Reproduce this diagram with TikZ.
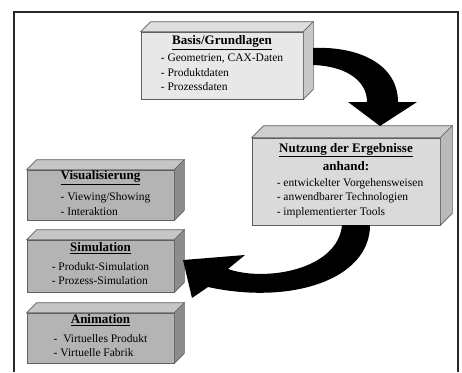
\documentclass[tikz,border=0pt]{standalone}
\usepackage{fontspec}
\setmainfont{Liberation Serif}
\usetikzlibrary{calc}
\definecolor{cEdge}{RGB}{95,95,95}
\definecolor{cFrame}{RGB}{40,40,40}
\definecolor{cLightFront}{RGB}{232,232,232}
\definecolor{cLightTop}{RGB}{222,222,222}
\definecolor{cLightSide}{RGB}{200,200,200}
\definecolor{cMidFront}{RGB}{218,218,218}
\definecolor{cMidTop}{RGB}{206,206,206}
\definecolor{cMidSide}{RGB}{186,186,186}
\definecolor{cDarkFront}{RGB}{180,180,180}
\definecolor{cDarkTop}{RGB}{198,198,198}
\definecolor{cDarkSide}{RGB}{140,140,140}
\tikzset{
  basebox/.style={rectangle,draw=cEdge,line width=0.6pt,inner sep=0pt,
                  align=center,font=\fontsize{11.5}{14.5}\selectfont},
  lightbox/.style={basebox,fill=cLightFront,minimum width=162pt,minimum height=67pt},
  midbox/.style={basebox,fill=cMidFront,minimum width=188pt,minimum height=87pt},
  darkbox/.style={basebox,fill=cDarkFront,minimum width=147pt,minimum height=50pt},
  face/.style={draw=cEdge,line width=0.6pt},
  bigarrow/.style={fill=black},
  frameline/.style={draw=cFrame,line width=1.4pt}
}
\newcommand{\boxtitle}[1]{\underline{\textbf{\fontsize{13}{16}\selectfont #1}}}
\newcommand{\itemlist}[1]{\begin{tabular}{@{}l@{}}#1\end{tabular}}

\begin{document}
\begin{tikzpicture}[x=1pt,y=-1pt]
  \useasboundingbox (0,0) rectangle (462,372);
  \draw[frameline] (14,372) -- (14,12) -- (458,12) -- (458,372);

  % front faces with text
  \node[lightbox] (basis) at (222,65.5)
      {\boxtitle{Basis/Grundlagen}\\[1pt]
       \itemlist{- Geometrien, CAX-Daten\\- Produktdaten\\- Prozessdaten}};
  \node[midbox] (nutzung) at (346,181.5)
      {\boxtitle{Nutzung der Ergebnisse}\\[4pt]
       \textbf{\fontsize{13}{16}\selectfont anhand:}\\[4pt]
       \hspace*{8pt}\itemlist{- entwickelter Vorgehensweisen\\ - anwendbarer Technologien\\ - implementierter Tools}};
  \node[darkbox] (visual) at (100.5,195)
      {\boxtitle{Visualisierung}\\[5pt]
       \hspace*{10pt}\itemlist{- Viewing/Showing\\- Interaktion}};
  \node[darkbox,minimum height=52pt] (simul) at (100.5,266)
      {\boxtitle{Simulation}\\[5pt]
       \itemlist{- Produkt-Simulation\\ - Prozess-Simulation}};
  \node[darkbox] (anim) at (100.5,338)
      {\boxtitle{Animation}\\[5pt]
       \itemlist{-\ \ Virtuelles Produkt\\ - Virtuelle Fabrik}};

  % top and side faces
  \foreach \b/\d/\tc/\sc in {basis/10/cLightTop/cLightSide,
                             nutzung/12/cMidTop/cMidSide,
                             visual/10/cDarkTop/cDarkSide,
                             simul/10/cDarkTop/cDarkSide,
                             anim/10/cDarkTop/cDarkSide}{
    \filldraw[face,fill=\tc] (\b.north west) -- (\b.north east)
      -- ([shift={(\d,-\d)}]\b.north east) -- ([shift={(\d,-\d)}]\b.north west) -- cycle;
    \filldraw[face,fill=\sc] (\b.north east) -- (\b.south east)
      -- ([shift={(\d,-\d)}]\b.south east) -- ([shift={(\d,-\d)}]\b.north east) -- cycle;
  }

  % curved arrows
  \coordinate (tip1) at (380,126);
  \coordinate (tip2) at (183,260);
  \fill[bigarrow] (313,48) .. controls (360,46) and (398,65) .. (398,102)
      -- (417,102) -- (tip1) -- (348,102) -- (367,102)
      .. controls (367,80) and (345,66) .. (313,65) -- cycle;
  \fill[bigarrow] (370,225) .. controls (370,280) and (290,305) .. (208,287)
      -- (192,298) -- (tip2) -- (245,255) -- (228,269)
      .. controls (265,282) and (338,270) .. (342,225) -- cycle;
\end{tikzpicture}
\end{document}
